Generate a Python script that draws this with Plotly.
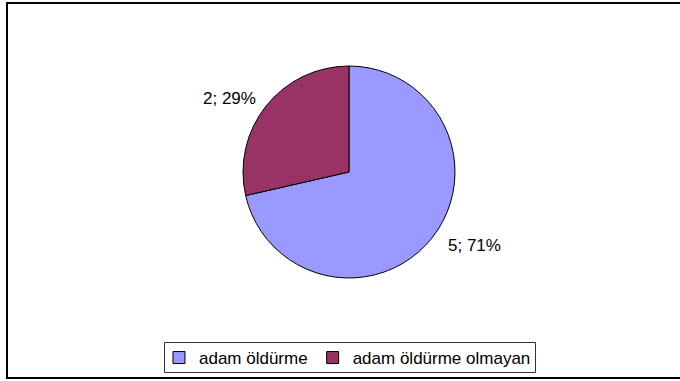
import plotly.graph_objects as go

labels = ["adam öldürme", "adam öldürme olmayan"]
values = [5, 2]
colors = ["#9999FF", "#993366"]

total = sum(values)
label_text = [f"{v}; {round(v / total * 100)}%" for v in values]

W, H = 680, 381
cx, cy, r = 349, 172, 106  # pie centre and radius in pixels

FONT = "Liberation Sans, Arial"

fig = go.Figure(
    go.Pie(
        labels=labels,
        values=values,
        sort=False,
        direction="clockwise",
        rotation=0,
        marker=dict(colors=colors, line=dict(color="black", width=1)),
        textinfo="none",
        hoverinfo="label+value+percent",
        domain=dict(
            x=[(cx - r) / W, (cx + r) / W],
            y=[(H - cy - r) / H, (H - cy + r) / H],
        ),
    )
)

# value / percent labels placed outside the slices
label_pos = [(474, 245), (229, 98)]
for txt, (px, py) in zip(label_text, label_pos):
    fig.add_annotation(
        x=px / W, y=(H - py) / H, xref="paper", yref="paper",
        xanchor="center", yanchor="middle",
        text=txt, showarrow=False,
        font=dict(family=FONT, size=17, color="black"),
    )

# outer chart frame (right side runs past the page edge)
fig.add_shape(
    type="rect", xref="paper", yref="paper",
    x0=7 / W, x1=1.02, y0=3 / H, y1=(H - 3) / H,
    line=dict(color="black", width=2), fillcolor="rgba(0,0,0,0)",
)

# legend frame
fig.add_shape(
    type="rect", xref="paper", yref="paper",
    x0=164.5 / W, x1=535.5 / W, y0=(H - 372.5) / H, y1=(H - 342.5) / H,
    line=dict(color="#333333", width=1), fillcolor="rgba(0,0,0,0)",
)

fig.update_layout(
    width=W, height=H,
    margin=dict(l=0, r=0, t=0, b=0),
    paper_bgcolor="white",
    plot_bgcolor="white",
    font=dict(family=FONT, size=17, color="black"),
    showlegend=True,
    legend=dict(
        orientation="h",
        x=0.511, xanchor="center",
        y=(H - 340) / H, yanchor="top",
        borderwidth=0,
        bgcolor="rgba(0,0,0,0)",
        font=dict(size=17),
        itemwidth=30,
    ),
)

fig.write_html("out.html")
